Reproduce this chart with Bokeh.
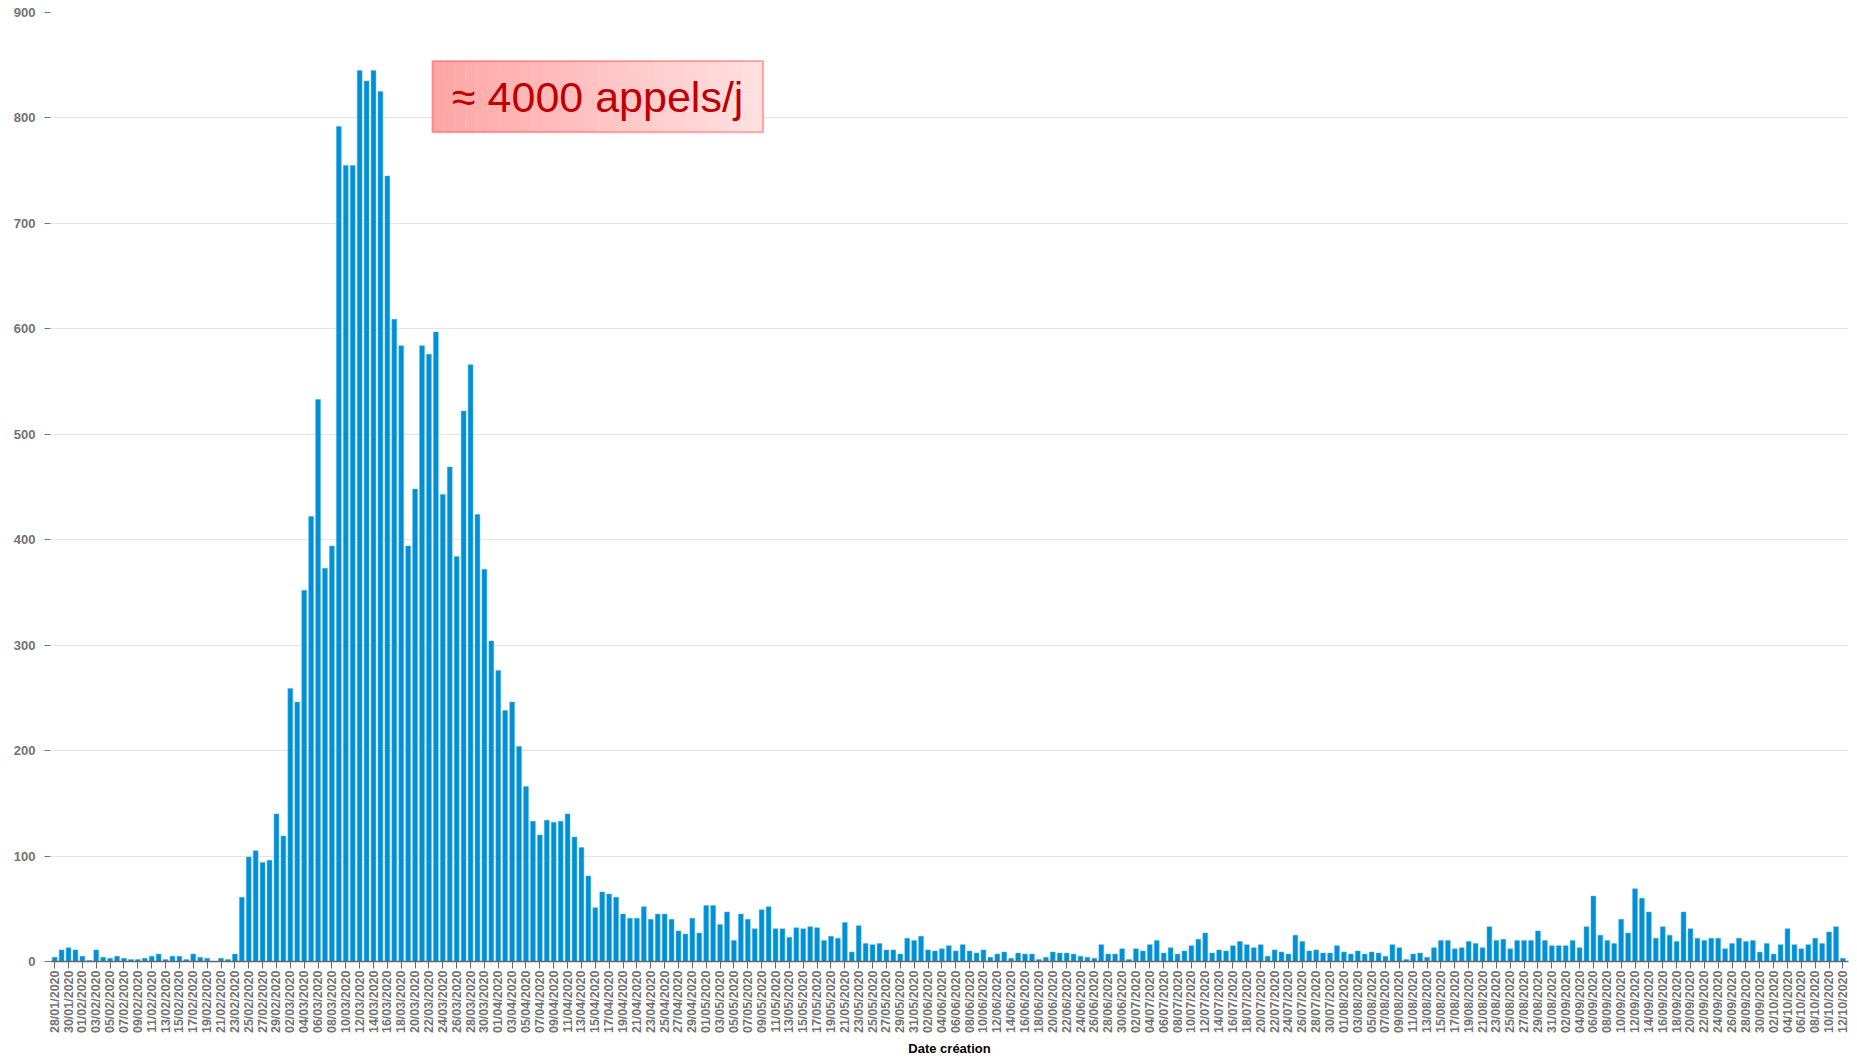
import math
import pandas as pd
from bokeh.plotting import figure
from bokeh.models import Range1d, FixedTicker, BoxAnnotation, Label, ColumnDataSource
from bokeh.embed import file_html
from bokeh.resources import INLINE

# ---- data: daily calls, 28/01/2020 -> 12/10/2020 ----
first_day = "2020-01-28"
last_day = "2020-10-12"
days = pd.date_range(first_day, last_day, freq="D")
day_labels = [d.strftime("%d/%m/%Y") for d in days]

calls_jan = [4, 11, 13, 11]
calls_feb = [5, 1, 11, 4, 3, 5, 3, 2, 2, 3, 5, 7, 2, 5, 5, 2, 7, 4, 3, 0, 3, 2, 7,
             61, 99, 105, 94, 96, 140]
calls_mar = [119, 259, 246, 352, 422, 533, 373, 394, 792, 755, 755, 845, 835, 845, 825,
             745, 609, 584, 394, 448, 584, 576, 597, 443, 469, 384, 522, 566, 424, 372, 304]
calls_apr = [276, 238, 246, 204, 166, 133, 120, 134, 132, 133, 140, 118, 108, 81, 51,
             66, 64, 61, 45, 41, 41, 52, 40, 45, 45, 40, 29, 26, 41, 27]
calls_may = [53, 53, 35, 47, 20, 45, 40, 31, 49, 52, 31, 31, 23, 32, 31, 33, 32, 20,
             24, 22, 37, 9, 34, 17, 16, 17, 11, 11, 7, 22, 20]
calls_jun = [24, 11, 10, 12, 15, 10, 16, 10, 8, 11, 4, 7, 9, 3, 8, 7, 7, 2, 4, 9, 8, 8,
             7, 5, 4, 3, 16, 7, 7, 12]
calls_jul = [2, 12, 10, 16, 20, 8, 13, 7, 10, 15, 21, 27, 8, 11, 10, 15, 19, 16, 13, 16,
             5, 11, 9, 7, 25, 19, 10, 11, 8, 8, 15]
calls_aug = [9, 7, 10, 7, 9, 8, 5, 16, 13, 2, 7, 8, 4, 13, 20, 20, 12, 13, 19, 17, 13,
             33, 20, 21, 12, 20, 20, 20, 29, 20, 15]
calls_sep = [15, 15, 20, 13, 33, 62, 25, 20, 17, 40, 27, 69, 60, 47, 22, 33, 25, 19, 47,
             31, 22, 20, 22, 22, 12, 17, 22, 19, 20, 9]
calls_oct = [17, 7, 16, 31, 16, 12, 16, 22, 17, 28, 33, 3]

y_ticks = [0, 100, 200, 300, 400, 500, 600, 700, 800, 900]
annotation_text = "≈ 4000 appels/j"
x_title = "Date création"

calls = (calls_jan + calls_feb + calls_mar + calls_apr + calls_may + calls_jun
         + calls_jul + calls_aug + calls_sep + calls_oct)
n = len(day_labels)
assert len(calls) == n
idx = list(range(n))

src = ColumnDataSource(dict(x=idx, top=calls, day=day_labels))

p = figure(
    frame_width=1798, frame_height=949,
    x_range=Range1d(-0.6, n - 0.2), y_range=Range1d(0, 900),
    output_backend="svg", toolbar_location=None,
    min_border_left=50, min_border_top=12, min_border_right=1, min_border_bottom=91,
    background_fill_color="white", border_fill_color="white",
)
p.outline_line_color = None

p.vbar(x="x", top="top", width=0.7, source=src, fill_color="#0090d5",
       line_color="#4aaee0", line_width=0.5)

# axes
label_font = "Liberation Sans"
xa = p.xaxis[0]
xa.ticker = FixedTicker(ticks=idx[::2], minor_ticks=[])
xa.major_label_overrides = {i: day_labels[i] for i in idx[::2]}
xa.major_label_orientation = math.pi / 2
xa.major_label_text_font = label_font
xa.major_label_text_font_style = "bold"
xa.major_label_text_font_size = "12.5px"
xa.major_label_text_color = "#737373"
xa.major_label_standoff = 2
xa.major_tick_out = 7
xa.major_tick_in = 0
xa.minor_tick_line_color = None
xa.major_tick_line_color = "#666666"
xa.axis_line_color = "#666666"
xa.axis_line_width = 1.5
xa.axis_label = x_title
xa.axis_label_text_font = label_font
xa.axis_label_text_font_style = "bold"
xa.axis_label_text_font_size = "13px"
xa.axis_label_text_color = "#000000"
xa.axis_label_standoff = 5

ya = p.yaxis[0]
ya.ticker = FixedTicker(ticks=y_ticks, minor_ticks=[])
ya.major_label_text_font = label_font
ya.major_label_text_font_style = "bold"
ya.major_label_text_font_size = "13px"
ya.major_label_text_color = "#737373"
ya.major_label_standoff = 9
ya.axis_line_color = None
ya.major_tick_out = 6
ya.major_tick_in = 0
ya.major_tick_line_color = "#777777"
ya.minor_tick_line_color = None

p.xgrid.grid_line_color = None
p.ygrid.grid_line_color = "#e4e4e4"
p.ygrid.grid_line_width = 1

# annotation box with a left-to-right pink gradient (approximated by strips)
box_left, box_right, box_bottom, box_top = 54.5, 102.2, 786.5, 853.9
n_strips = 30
c0 = (255, 166, 166)
c1 = (255, 224, 224)
w = (box_right - box_left) / n_strips
for k in range(n_strips):
    t = k / (n_strips - 1)
    col = "#%02x%02x%02x" % tuple(int(round(a + (b - a) * t)) for a, b in zip(c0, c1))
    p.add_layout(BoxAnnotation(left=box_left + k * w, right=box_left + (k + 1) * w + 0.05,
                               bottom=box_bottom, top=box_top,
                               fill_color=col, fill_alpha=1.0, line_color=None,
                               level="overlay"))
p.add_layout(BoxAnnotation(left=box_left, right=box_right, bottom=box_bottom, top=box_top,
                           fill_alpha=0.0, line_color="#ff0000", line_width=2,
                           level="overlay"))
lab = Label(x=(box_left + box_right) / 2, y=(box_bottom + box_top) / 2,
            text=annotation_text, text_align="center",
            text_baseline="middle", text_font=label_font,
            text_font_size="43px", text_color="#c00000", level="overlay")
p.add_layout(lab)

open("out.html", "w").write(file_html(p, INLINE))
